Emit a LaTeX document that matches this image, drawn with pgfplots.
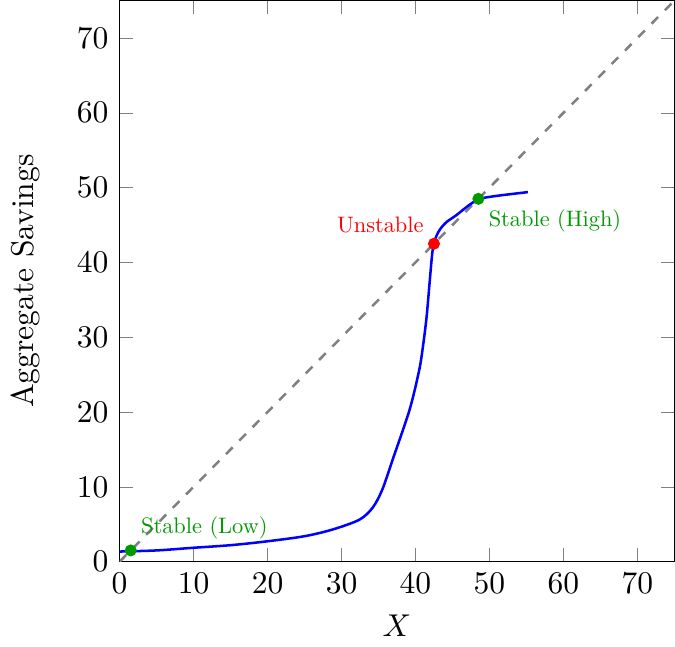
\documentclass[border=0pt]{standalone}
\usepackage{pgfplots}
\pgfplotsset{compat=1.18}
\tikzset{lbl/.style={inner sep=3.1pt}}

\begin{document}
\begin{tikzpicture}
\begin{axis}[
    width=176pt, height=178pt,
    scale only axis,
    xmin=0, xmax=75, ymin=0, ymax=75,
    xtick={0,10,...,70}, ytick={0,10,...,70},
    xlabel={$X$},
    ylabel={Aggregate Savings},
    ylabel style={yshift=5pt},
]
% 45 degree line
\addplot[gray, dashed, thick] coordinates {(0,0) (75,75)};
% savings curve
\addplot[blue, thick, smooth] coordinates {
    (0,1.35) (5,1.5) (9.9,1.85) (15,2.2) (19.8,2.7) (25,3.4) (28.8,4.3)
    (32.4,5.6) (34.2,7.2) (35.5,9.6) (36.9,13.6) (39.2,20.3) (40.5,25.6)
    (41,28.7) (41.5,32.7) (41.9,37.2) (42.3,41.5) (42.7,43.2) (43.3,44.4)
    (44.2,45.4) (45.5,46.3) (47.3,47.7) (48.7,48.5) (51,48.9) (55.2,49.4)
};
% equilibria
\addplot[only marks, mark=*, mark size=1.7pt, green!60!black] coordinates {(1.5,1.5) (48.5,48.5)};
\addplot[only marks, mark=*, mark size=1.7pt, red] coordinates {(42.5,42.5)};
\node[lbl, anchor=south west, text=green!60!black] at (axis cs:1.5,1.6) {\scalebox{0.71}{Stable (Low)}};
\node[lbl, anchor=south east, text=red] at (axis cs:42.5,42.5) {\scalebox{0.71}{Unstable}};
\node[lbl, anchor=north west, text=green!60!black] at (axis cs:48.5,48.5) {\scalebox{0.71}{Stable (High)}};
\end{axis}
\end{tikzpicture}
\end{document}
